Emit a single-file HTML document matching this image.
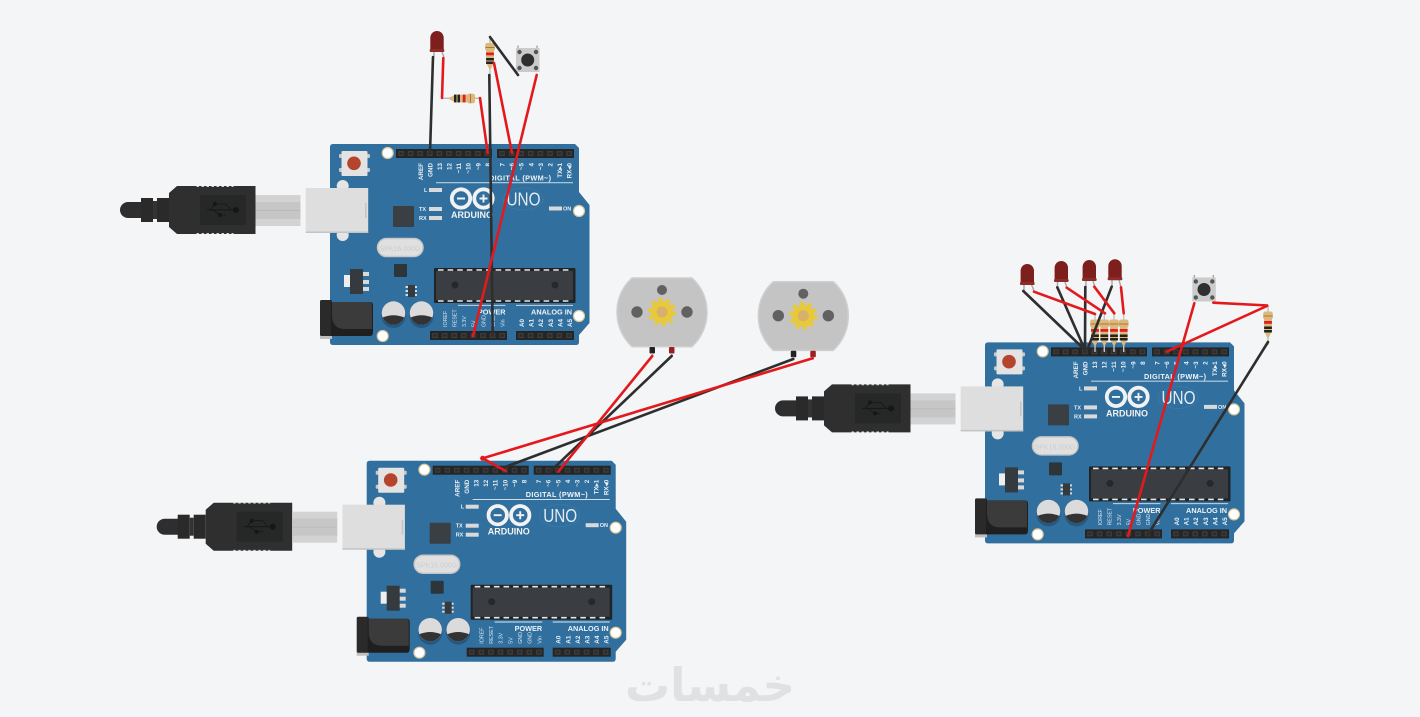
<!DOCTYPE html>
<html><head><meta charset="utf-8"><style>html,body{margin:0;padding:0;background:#f4f5f7;width:1420px;height:717px;overflow:hidden}svg{display:block}text{font-family:"Liberation Sans",sans-serif}</style></head>
<body>
<svg width="1420" height="717" viewBox="0 0 1420 717" xmlns="http://www.w3.org/2000/svg">
<defs>
<pattern id="pins" x="396.2" y="149" width="9.6" height="9" patternUnits="userSpaceOnUse"><rect width="9.6" height="9" fill="#252525"/><rect x="2" y="2" width="5.6" height="5" fill="#3d3d3d"/><rect x="3.2" y="3.2" width="3.2" height="2.6" fill="#2a2a2a"/></pattern>
<pattern id="pinsr" x="497.2" y="149" width="9.6" height="9" patternUnits="userSpaceOnUse"><rect width="9.6" height="9" fill="#252525"/><rect x="2" y="2" width="5.6" height="5" fill="#3d3d3d"/><rect x="3.2" y="3.2" width="3.2" height="2.6" fill="#2a2a2a"/></pattern>
<pattern id="pinsb" x="430.2" y="331" width="9.6" height="9" patternUnits="userSpaceOnUse"><rect width="9.6" height="9" fill="#252525"/><rect x="2" y="2" width="5.6" height="5" fill="#3d3d3d"/><rect x="3.2" y="3.2" width="3.2" height="2.6" fill="#2a2a2a"/></pattern>
<pattern id="pinsa" x="516.2" y="331" width="9.6" height="9" patternUnits="userSpaceOnUse"><rect width="9.6" height="9" fill="#252525"/><rect x="2" y="2" width="5.6" height="5" fill="#3d3d3d"/><rect x="3.2" y="3.2" width="3.2" height="2.6" fill="#2a2a2a"/></pattern>
<g id="board">
  <!-- USB plug -->
  <path d="M128,202H142V218H128A8,8 0 0 1 128,202Z" fill="#2e2e2e"/>
  <rect x="141" y="198" width="12" height="24" fill="#2a2a2a"/><rect x="153" y="201" width="4" height="18" fill="#333"/><rect x="157" y="198" width="12" height="24" fill="#2a2a2a"/>
  <path d="M177,186H255.500V234H177L169,227V193Z" fill="#2f2f2f"/>
  <path d="M196.500,186.400H233.500M196.500,233.600H233.500" stroke="#e8e8e8" stroke-width=".9" stroke-dasharray="2.500 2.500"/>
  <rect x="200" y="195" width="46" height="30" fill="#262828"/>
  <path d="M207,210H236" stroke="#161616" stroke-width="1"/><circle cx="236" cy="210" r="3" fill="#161616"/><circle cx="215" cy="204" r="2" fill="#161616"/><circle cx="220" cy="215" r="2" fill="#161616"/><path d="M210,210L215,204H226L231,210M213,210L220,215H226" stroke="#161616" fill="none" stroke-width=".8"/>
  <rect x="255.500" y="195" width="45" height="31" fill="#d3d3d3"/><rect x="255.500" y="202" width="45" height="17" fill="#c6c6c6"/><path d="M255.500,210.500H300" stroke="#b5b5b5" stroke-width=".7"/>
  <!-- PCB -->
  <path d="M333,144H575L579,148V192L589.500,205V323L579,335V342Q579,345 576,345H333Q330,345 330,342V147Q330,144 333,144Z" fill="#306f9e"/>
  <circle cx="342.700" cy="186" r="6" fill="#e5e5e5"/><circle cx="342.700" cy="235" r="6" fill="#e5e5e5"/>
  <rect x="305.700" y="188" width="62.500" height="45" fill="#dedede"/><rect x="305.700" y="231.500" width="62.500" height="1.500" fill="#c4c4c4"/><rect x="365" y="203" width="1.500" height="15" fill="#c4c4c4"/>
  <!-- headers -->
  <rect x="396" y="149" width="96" height="9" fill="url(#pins)"/><rect x="497" y="149" width="77" height="9" fill="url(#pinsr)"/>
  <rect x="430" y="331" width="77" height="9" fill="url(#pinsb)"/><rect x="516" y="331" width="58" height="9" fill="url(#pinsa)"/>
  <!-- holes -->
  <g fill="#fff" stroke="#d8c79a" stroke-width="1.200"><circle cx="387.700" cy="153" r="5.500"/><circle cx="579" cy="211" r="5.500"/><circle cx="579" cy="316" r="5.500"/><circle cx="382.700" cy="336" r="5.500"/></g>
  <!-- reset -->
  <rect x="339" y="154" width="31" height="4" fill="#c9c9c9" rx="1"/><rect x="339" y="168" width="31" height="4" fill="#c9c9c9" rx="1"/>
  <rect x="341.500" y="151" width="26" height="25" rx="1" fill="#e3e3e3"/><circle cx="354" cy="163.300" r="6.800" fill="#b5442d"/>
  <!-- leds -->
  <g fill="#d9d9d9"><rect x="429" y="188" width="13" height="4"/><rect x="429" y="207" width="13" height="4"/><rect x="429" y="216" width="13" height="4"/><rect x="549" y="206.500" width="13" height="4"/></g>
  <g fill="#eaf0f5" font-weight="700" font-size="5.500"><text x="424" y="192">L</text><text x="419" y="211">TX</text><text x="419" y="220">RX</text><text x="563" y="210.500">ON</text></g>
  <rect x="393" y="206" width="21" height="21" rx="1" fill="#3a3f43"/>
  <!-- logo -->
  <g fill="none" stroke="#f2f2f2" stroke-width="3.800"><circle cx="461" cy="198.500" r="9.200"/><circle cx="483.500" cy="198.500" r="9.200"/></g>
  <path d="M457,198.500H465M479.500,198.500H487.500M483.500,194.500V202.500" stroke="#f2f2f2" stroke-width="1.900"/>
  <text x="451" y="218" font-size="9" font-weight="700" fill="#f2f2f2" textLength="42" lengthAdjust="spacingAndGlyphs">ARDUINO</text>
  <ellipse cx="523" cy="199" rx="20" ry="11" fill="none" stroke="#4d86b1" stroke-width=".7" stroke-dasharray="1 1"/>
  <text x="506.500" y="205.500" font-size="18" fill="#e4ecf2" textLength="34" lengthAdjust="spacingAndGlyphs">UNO</text>
  <!-- top labels -->
  <g fill="#e9eff4" font-size="6.300" font-weight="700" text-anchor="end">
    <text transform="translate(423,163) rotate(-90)">AREF</text><text transform="translate(432.500,163) rotate(-90)">GND</text><text transform="translate(442,163) rotate(-90)">13</text><text transform="translate(451.500,163) rotate(-90)">12</text><text transform="translate(461,163) rotate(-90)">~11</text><text transform="translate(470.700,163) rotate(-90)">~10</text><text transform="translate(480.300,163) rotate(-90)">~9</text><text transform="translate(490,163) rotate(-90)">8</text>
    <text transform="translate(504.500,163) rotate(-90)">7</text><text transform="translate(514,163) rotate(-90)">~6</text><text transform="translate(523.700,163) rotate(-90)">~5</text><text transform="translate(533.300,163) rotate(-90)">4</text><text transform="translate(543,163) rotate(-90)">~3</text><text transform="translate(552.500,163) rotate(-90)">2</text><text transform="translate(562,163) rotate(-90)">TX▸1</text><text transform="translate(571.700,163) rotate(-90)">RX◂0</text>
  </g>
  <text x="489" y="180.500" font-size="7.300" font-weight="700" fill="#eef3f7" letter-spacing=".35">DIGITAL (PWM~)</text>
  <rect x="436" y="182.300" width="137" height=".9" fill="#dfe8ef"/>
  <!-- crystal -->
  <rect x="377.500" y="238.500" width="45.500" height="18" rx="9" fill="#e0e0e0" stroke="#c6c6c6" stroke-width="1.500"/>
  <text x="400" y="251" font-size="7" fill="#cdcdcd" text-anchor="middle">SPK16.000G</text>
  <rect x="394" y="264" width="13" height="13" rx="1" fill="#2e3539"/>
  <!-- regulator -->
  <rect x="344" y="275" width="7" height="12" fill="#eee"/><g fill="#d9d9d9"><rect x="362" y="272" width="7" height="4"/><rect x="362" y="280" width="7" height="4"/><rect x="362" y="287" width="7" height="4"/></g>
  <rect x="350" y="269" width="13" height="25" fill="#343a3e"/>
  <!-- small ic -->
  <rect x="405.500" y="286" width="11.500" height="2" fill="#d9d9d9"/><rect x="405.500" y="290" width="11.500" height="2" fill="#d9d9d9"/><rect x="405.500" y="294" width="11.500" height="2" fill="#d9d9d9"/>
  <rect x="408" y="285" width="7" height="12" fill="#343a3e"/>
  <!-- atmega -->
  <rect x="434" y="268" width="141.500" height="35" rx="1" fill="#212427"/><rect x="436" y="271" width="137" height="29" fill="#3a3e42"/>
  <path d="M438,270H572M438,301H572" stroke="#e7e7e7" stroke-width="1.600" stroke-dasharray="5.600 4"/>
  <circle cx="455" cy="285" r="3.500" fill="#26292b"/><circle cx="555" cy="285" r="3.500" fill="#26292b"/>
  <!-- caps -->
  <g><circle cx="393.500" cy="316" r="12" fill="#26587f"/><circle cx="393.500" cy="313" r="11.700" fill="#dbdbdb"/><path d="M382.700,317.500A11.700,11.700 0 0 0 404.300,317.500Q393.500,313 382.700,317.500Z" fill="#333"/></g>
  <g><circle cx="421.500" cy="316" r="12" fill="#26587f"/><circle cx="421.500" cy="313" r="11.700" fill="#dbdbdb"/><path d="M410.700,317.500A11.700,11.700 0 0 0 432.300,317.500Q421.500,313 410.700,317.500Z" fill="#333"/></g>
  <!-- jack -->
  <rect x="320" y="335" width="12" height="4" fill="#bfbfbf"/><rect x="320" y="300" width="12" height="36" rx="1.500" fill="#2a2a2a"/>
  <path d="M331,302H370Q373,302 373,305V332Q373,336 370,336H331Z" fill="#1f1f1f"/><path d="M332,302H370Q372,302 372,305V329H345Q332,329 332,315Z" fill="#3b3b3b"/>
  <!-- bottom labels -->
  <path d="M458,305.300H505.500M516,305.300H573" stroke="#dfe8ef" stroke-width=".9"/>
  <g fill="#eef3f7" font-size="7.300" font-weight="700" text-anchor="end"><text x="505.500" y="314.500">POWER</text><text x="572" y="314.500">ANALOG IN</text></g>
  <g fill="#dde6ed" font-size="5.300">
    <text transform="translate(447,327) rotate(-90)">IOREF</text><text transform="translate(456.500,327) rotate(-90)">RESET</text><text transform="translate(466,327) rotate(-90)">3.3V</text><text transform="translate(475.700,327) rotate(-90)">5V</text><text transform="translate(485.300,327) rotate(-90)">GND</text><text transform="translate(495,327) rotate(-90)">GND</text><text transform="translate(504.600,327) rotate(-90)">Vin</text>
  </g>
  <g fill="#eef3f7" font-size="6.300" font-weight="700">
    <text transform="translate(524,327) rotate(-90)">A0</text><text transform="translate(533.600,327) rotate(-90)">A1</text><text transform="translate(543.200,327) rotate(-90)">A2</text><text transform="translate(552.800,327) rotate(-90)">A3</text><text transform="translate(562.400,327) rotate(-90)">A4</text><text transform="translate(572,327) rotate(-90)">A5</text>
  </g>
</g>
<g id="motor">
  <path d="M-30,-34H30Q45,-20 45,0Q45,20 30,34.700H-30Q-45,20 -45,0Q-45,-20 -30,-34Z" fill="#c4c4c4" stroke="#cfcfcf" stroke-width="1.500"/>
  <g fill="#616161"><circle cx="-25" r="5.700"/><circle cx="25" r="5.700"/><circle cy="-22" r="5"/></g>
  <circle r="11" fill="#e8c93a"/><circle r="12.500" fill="none" stroke="#e8c93a" stroke-width="3.500" stroke-dasharray="3.930 3.930"/>
  <circle r="5.500" fill="#d8b06c"/>
  <rect x="-12.500" y="35" width="5.500" height="6.500" rx="1" fill="#222"/><rect x="7" y="35" width="5.500" height="6.500" rx="1" fill="#9c1f1f"/>
  <path d="M-10,41V44M9.700,41V44" stroke="#aaa" stroke-width="1.500"/>
</g>
<g id="rv">
  <path d="M-3,-13.500Q-4.900,-13.500 -4.900,-10V-7.500Q-4.900,-6.500 -3.900,-6V6L-1,12Q0,13.500 1,12L3.900,6V-6Q4.900,-6.500 4.900,-7.500V-10Q4.900,-13.500 3,-13.500Z" fill="#dcb97a"/>
  <rect x="-3.900" y="-4" width="7.800" height="2.800" fill="#e01f1f"/><rect x="-3.900" y="1.500" width="7.800" height="2.500" fill="#222"/><rect x="-3.900" y="5" width="7.800" height="2.500" fill="#222"/><rect x="-4.500" y="-9.500" width="9" height="1" fill="#a8763e"/>
</g>
<g id="led">
  <path d="M-6.700,20V6.800A6.700,6.800 0 0 1 6.700,6.800V20Z" fill="#7d1f1c"/><rect x="-7.300" y="18" width="14.600" height="3" rx="1" fill="#8e2c27"/>
</g>
<g id="btn">
  <path d="M2,-2.500V3M21,-2.500V3" stroke="#999" stroke-width="1.200"/>
  <rect width="23.500" height="24" fill="#cbcbcb"/>
  <g fill="#555"><circle cx="3.500" cy="4" r="2.200"/><circle cx="20" cy="4" r="2.200"/><circle cx="3.500" cy="20" r="2.200"/><circle cx="20" cy="20" r="2.200"/></g>
  <circle cx="11.700" cy="12" r="6.500" fill="#2f2f2f"/>
</g>
</defs>
<rect width="1420" height="717" fill="#f4f5f7"/>
<use href="#board"/>
<use href="#board" transform="translate(36.700,316.700)"/>
<use href="#board" transform="translate(655,198.400)"/>

<!-- board 1 components -->
<path d="M434,52V57M442,52L444,57" stroke="#aaa" stroke-width="1.500" fill="none"/>
<use href="#led" transform="translate(437,31)"/>
<path d="M442,98.300H481.500" stroke="#b9b9b9" stroke-width="1.300"/>
<use href="#rv" transform="translate(461.500,98.500) rotate(90)"/>
<path d="M490,37V75" stroke="#b9b9b9" stroke-width="1.300"/>
<use href="#rv" transform="translate(490,56.500)"/>
<use href="#btn" transform="translate(516,48)"/>
<g fill="none" stroke-width="2.600" stroke-linecap="round">
  <path d="M433,57L430,153" stroke="#2e2e2e"/>
  <path d="M443.300,58L442,98M480,98L487.700,153" stroke="#e3191c"/>
  <path d="M489.300,75L492.700,335M490,37L518,75" stroke="#2e2e2e"/>
  <path d="M494,63L512,153M536.700,75L473,336" stroke="#e3191c"/>
</g>

<!-- motors -->
<use href="#motor" transform="translate(662,312)"/>
<use href="#motor" transform="translate(803.300,315.700)"/>
<g fill="none" stroke-width="2.600" stroke-linecap="round">
  <path d="M671.700,356L550,471.700M793.300,359L503.300,467.700" stroke="#2e2e2e"/>
  <path d="M652.300,356L558.300,471.700M812.700,358.300L482.700,458.300L505.700,471" stroke="#e3191c"/>
</g>
<circle cx="482.700" cy="458.300" r="2.500" fill="#e3191c"/>

<!-- board 3 components -->
<g stroke="#aaa" stroke-width="1.500" fill="none"><path d="M1024,283V291M1031,283L1034,291M1057.500,282V288M1065,282L1067,288M1086,281V287M1093,281L1095,287M1112,280V287M1119,280L1121,287"/></g>
<use href="#led" transform="translate(1027.300,264)"/>
<use href="#led" transform="translate(1061.300,261)"/>
<use href="#led" transform="translate(1089.300,260)"/>
<use href="#led" transform="translate(1115,259.300)"/>
<path d="M1095,313V352M1104.300,313V352M1114,313V352M1123.700,313V352" stroke="#c4c4c4" stroke-width="1.400"/>
<use href="#rv" transform="translate(1095,333)"/>
<use href="#rv" transform="translate(1104.300,333)"/>
<use href="#rv" transform="translate(1114,333)"/>
<use href="#rv" transform="translate(1123.700,333)"/>
<use href="#btn" transform="translate(1192.300,277.500)"/>
<path d="M1268,305V345" stroke="#b9b9b9" stroke-width="1.300"/>
<use href="#rv" transform="translate(1268,325)"/>
<g fill="none" stroke-width="2.600" stroke-linecap="round">
  <path d="M1023.300,291L1085,350M1057.300,287.300L1085,350M1085.300,287L1085,350M1111.700,286.700L1088,348M1268,342L1147.700,535" stroke="#2e2e2e"/>
  <path d="M1034,291.700L1095,314M1066.700,287.700L1105,313.300M1094.300,286.700L1114.300,313.300M1121,287.300L1123.700,313.300M1194.300,303.300L1128,536M1213.300,302.700L1268,305.500L1166.700,351.700" stroke="#e3191c"/>
</g>

<!-- watermark -->
<text x="710" y="701" font-size="46" font-weight="700" fill="#e0e1e2" text-anchor="middle" textLength="170" lengthAdjust="spacingAndGlyphs" style='font-family:"DejaVu Sans",sans-serif' direction="rtl">خمسات</text>
</svg>
</body></html>
